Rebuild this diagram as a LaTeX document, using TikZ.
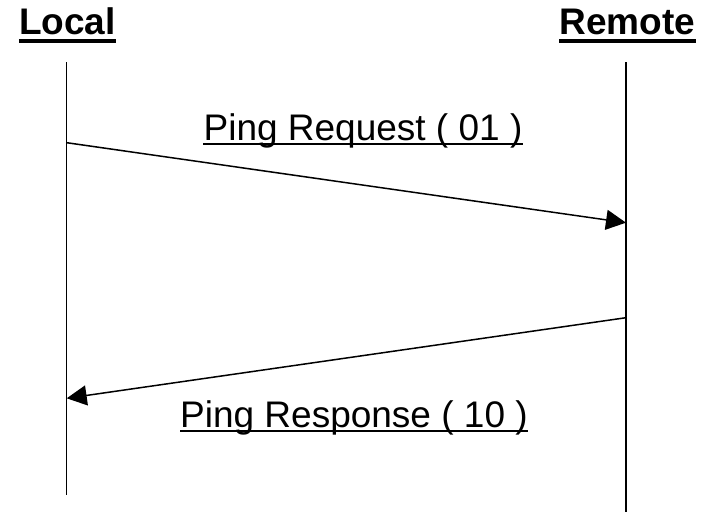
\documentclass[tikz,border=0pt]{standalone}
\usepackage{fontspec}
\setmainfont{Liberation Sans}
\usetikzlibrary{arrows.meta}
\tikzset{
  lifeline/.style={line width=1.5pt},
  msg/.style={line width=1.5pt,-{Triangle[length=20pt,width=20pt]}},
  title/.style={font=\fontsize{37}{40}\selectfont\bfseries,inner sep=0pt,anchor=base},
  msglabel/.style={font=\fontsize{37}{40}\selectfont,inner sep=0pt,anchor=base},
  ulbold/.style={line width=3.5pt},
  ulplain/.style={line width=1.5pt}
}
\begin{document}
\begin{tikzpicture}[x=1pt,y=-1pt]
\useasboundingbox (0,0) rectangle (702,512);
% titles
\node[title] (local) at (67.5,34) {Local};
\draw[ulbold] ([yshift=-7pt]local.base west) -- ([yshift=-7pt]local.base east);
\node[title] (remote) at (627.5,34) {Remote};
\draw[ulbold] ([yshift=-7pt]remote.base west) -- ([yshift=-7pt]remote.base east);
% lifelines
\coordinate (lt) at (66.7,62);
\coordinate (lb) at (66.7,495);
\coordinate (rt) at (626,62);
\coordinate (rb) at (626,512);
\draw[lifeline] (lt) -- (lb);
\draw[lifeline] (rt) -- (rb);
% messages
\coordinate (req1) at (66.7,142.7);
\coordinate (req2) at (626,222.7);
\coordinate (res1) at (626,317.7);
\coordinate (res2) at (66.7,398.3);
\draw[msg] (req1) -- (req2);
\draw[msg] (res1) -- (res2);
% labels
\node[msglabel] (reqlab) at (363,140) {Ping Request ( 01 )};
\draw[ulplain] ([yshift=-4pt]reqlab.base west) -- ([yshift=-4pt]reqlab.base east);
\node[msglabel] (reslab) at (354,427) {Ping Response ( 10 )};
\draw[ulplain] ([yshift=-4pt]reslab.base west) -- ([yshift=-4pt]reslab.base east);
\end{tikzpicture}
\end{document}
